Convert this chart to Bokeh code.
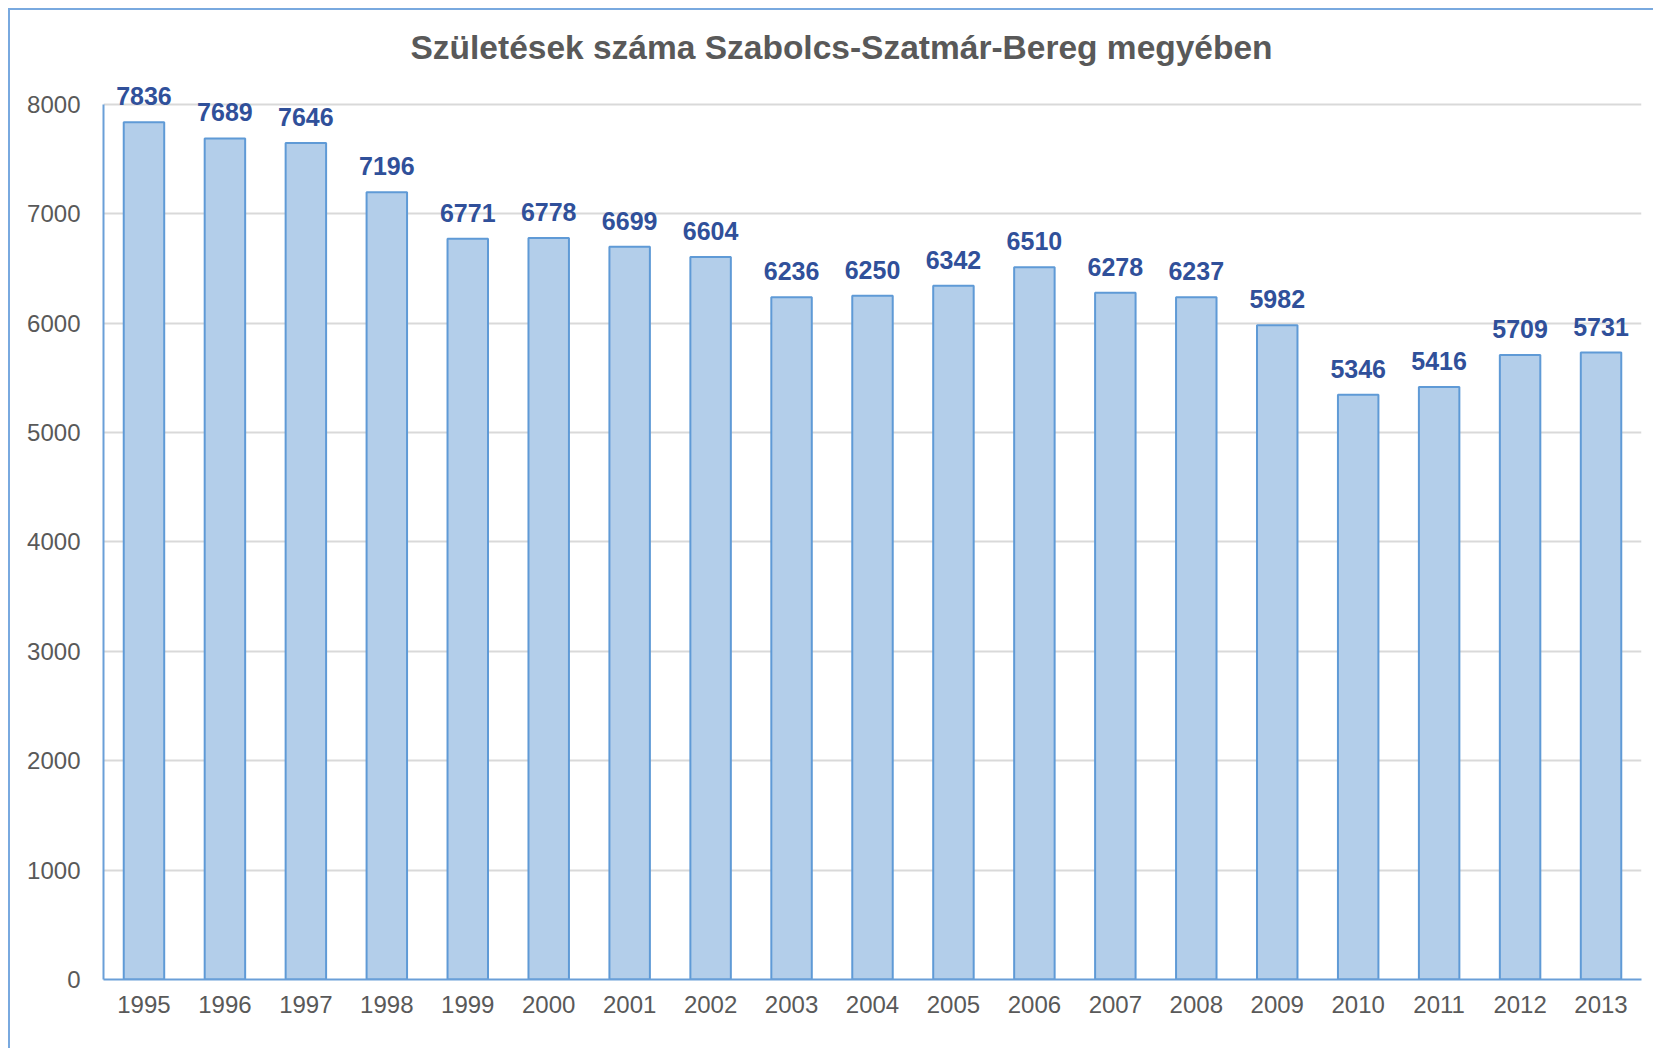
from bokeh.plotting import figure
from bokeh.models import ColumnDataSource, FactorRange, Range1d, SingleIntervalTicker, LabelSet
from bokeh.core.properties import value
from bokeh.embed import file_html
from bokeh.resources import INLINE

years = ["1995", "1996", "1997", "1998", "1999", "2000", "2001", "2002", "2003", "2004",
         "2005", "2006", "2007", "2008", "2009", "2010", "2011", "2012", "2013"]
births = [7836, 7689, 7646, 7196, 6771, 6778, 6699, 6604, 6236, 6250,
          6342, 6510, 6278, 6237, 5982, 5346, 5416, 5709, 5731]
title_text = "Születések száma  Szabolcs-Szatmár-Bereg megyében"
y_max_tick = 8000

src = ColumnDataSource(dict(year=years, births=births, label=[str(v) for v in births]))

FONT = "Liberation Sans"

p = figure(x_range=FactorRange(*years, range_padding=0), y_range=Range1d(0, 8200),
           width=1645, height=1040, output_backend="svg", toolbar_location=None,
           min_border_left=93, min_border_right=14, min_border_top=72, min_border_bottom=71,
           title=title_text)
p.margin = (8, 0, 0, 8)
p.styles = {"border-left": "2px solid #79A9DF", "border-top": "2px solid #79A9DF"}

p.vbar(x="year", top="births", width=0.5, source=src,
       fill_color="#B3CEEA", line_color="#5F9AD6", line_width=2)

labels = LabelSet(x="year", y="births", text="label", source=src,
                  text_align="center", text_baseline="alphabetic", y_offset=17,
                  text_font=value(FONT), text_font_size="25px", text_font_style="bold",
                  text_color="#30509A")
p.add_layout(labels)

p.title.align = "left"
p.title.offset = 307
p.title.standoff = 33
p.title.text_font = FONT
p.title.text_font_size = "33.5px"
p.title.text_font_style = "bold"
p.title.text_color = "#595959"

p.outline_line_color = None
p.background_fill_color = "white"
p.border_fill_color = "white"

p.xgrid.grid_line_color = None
p.ygrid.grid_line_color = "#D9D9D9"
p.ygrid.grid_line_width = 2

p.yaxis.ticker = SingleIntervalTicker(interval=1000)
p.yaxis.bounds = (0, y_max_tick)
for ax in (p.xaxis, p.yaxis):
    ax.axis_line_color = "#6A9FD8"
    ax.axis_line_width = 2
    ax.major_tick_line_color = None
    ax.minor_tick_line_color = None
    ax.major_label_text_font = FONT
    ax.major_label_text_font_size = "24px"
    ax.major_label_text_color = "#595959"
p.xaxis.major_label_standoff = 10
p.yaxis.major_label_standoff = 17

open("out.html", "w").write(file_html(p, INLINE))
